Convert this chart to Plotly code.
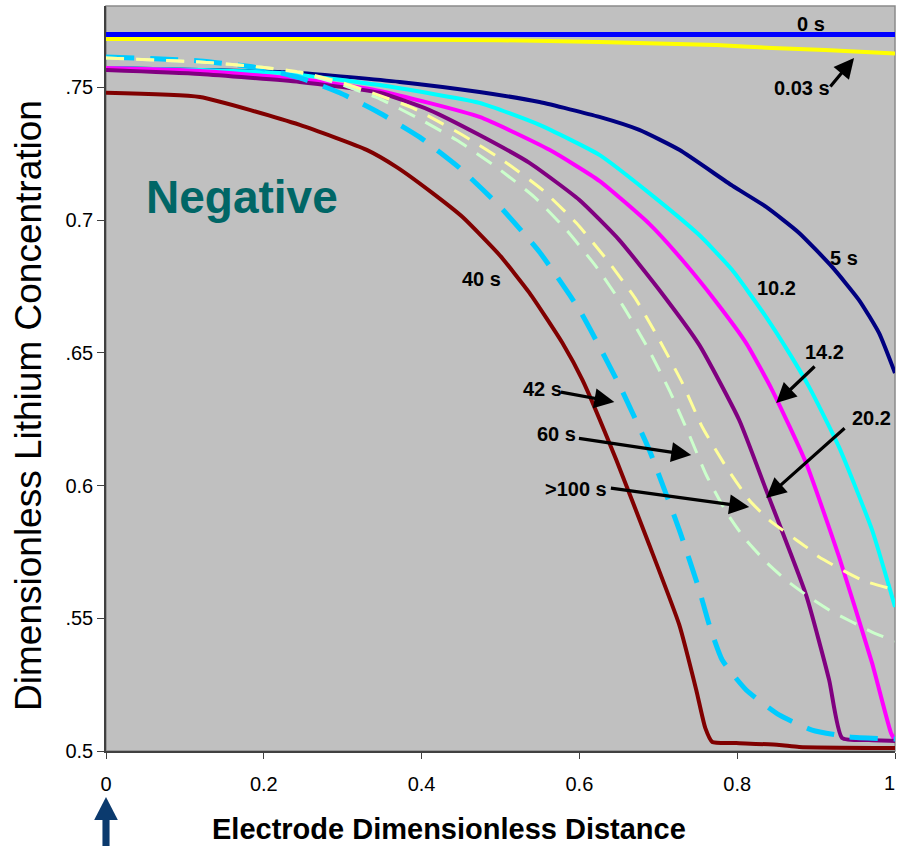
import plotly.graph_objects as go

# ---- concentration profiles across the negative electrode ----
x_0s = [0.0, 1.0]
y_0s = [0.770, 0.770]

x_003s = [0.0, 0.25, 0.5, 0.6253, 0.7734, 0.8443, 0.9114, 1.0]
y_003s = [0.7683, 0.7683, 0.7678, 0.7671, 0.7660, 0.7649, 0.7641, 0.7628]

x_5s = [0.0, 0.119, 0.2456, 0.3722, 0.4734, 0.5494, 0.6253, 0.6759, 0.7266, 0.7937,
        0.8367, 0.8785, 0.9203, 0.9544, 0.9797, 1.0]
y_5s = [0.7573, 0.7566, 0.7555, 0.7521, 0.7483, 0.7445, 0.7389, 0.7340, 0.7265, 0.7130,
        0.7050, 0.6952, 0.6824, 0.6699, 0.6575, 0.6424]

x_10s = [0.0, 0.119, 0.2203, 0.3468, 0.4734, 0.5494, 0.6253, 0.6886, 0.7519, 0.7937,
         0.8367, 0.8658, 0.8911, 0.9291, 0.9709, 1.0]
y_10s = [0.7573, 0.7566, 0.7555, 0.7509, 0.7442, 0.7359, 0.7246, 0.7102, 0.6944, 0.6812,
         0.6635, 0.6500, 0.6372, 0.6145, 0.5833, 0.5543]

x_14s = [0.0, 0.119, 0.2456, 0.3468, 0.4734, 0.5620, 0.6253, 0.6886, 0.7304, 0.7734,
         0.8114, 0.8443, 0.8873, 0.9291, 0.9709, 0.9949, 1.0]
y_14s = [0.7573, 0.7562, 0.7532, 0.7487, 0.7389, 0.7265, 0.7148, 0.6986, 0.6850, 0.6692,
         0.6537, 0.6360, 0.6085, 0.5731, 0.5332, 0.5068, 0.5041]

x_20s = [0.0, 0.119, 0.2456, 0.3468, 0.4101, 0.4734, 0.5367, 0.6, 0.6506, 0.7013,
         0.7519, 0.8025, 0.8367, 0.8873, 0.9165, 0.9329, 0.9671, 1.0]
y_20s = [0.7566, 0.7551, 0.7521, 0.7480, 0.7415, 0.7321, 0.7216, 0.7076, 0.6925, 0.6737,
         0.6530, 0.6247, 0.5983, 0.5588, 0.5268, 0.5049, 0.5041, 0.5038]

x_40s = [0.0, 0.119, 0.2456, 0.3304, 0.3684, 0.4139, 0.4519, 0.4987, 0.5367, 0.5785,
         0.6038, 0.6468, 0.6886, 0.7266, 0.7481, 0.7595, 0.7684, 0.7987, 0.8532, 0.8785, 1.0]
y_40s = [0.7480, 0.7464, 0.7359, 0.7265, 0.7200, 0.7102, 0.7012, 0.6869, 0.6726, 0.6537,
         0.6398, 0.6096, 0.5776, 0.5475, 0.5230, 0.5087, 0.5034, 0.5030, 0.5023, 0.5015, 0.5011]

x_42s = [0.0, 0.119, 0.1949, 0.2456, 0.2962, 0.3468, 0.3975, 0.4481, 0.4987, 0.5494,
         0.6, 0.6506, 0.6886, 0.7266, 0.7519, 0.7646, 0.7810, 0.8114, 0.8532, 0.8949,
         0.9418, 1.0]
y_42s = [0.7615, 0.7600, 0.7573, 0.7536, 0.7480, 0.7404, 0.7313, 0.7197, 0.7053, 0.6880,
         0.6662, 0.6379, 0.6134, 0.5833, 0.5607, 0.5475, 0.5343, 0.5230, 0.5136, 0.5079,
         0.5053, 0.5045]

x_60s = [0.0, 0.119, 0.1949, 0.2456, 0.2962, 0.3468, 0.3975, 0.4443, 0.4949, 0.5430,
         0.5835, 0.6215, 0.6544, 0.6861, 0.7139, 0.7392, 0.7608, 0.7861, 0.8089, 0.8367,
         0.8620, 0.8911, 0.9165, 0.9456, 0.9709, 1.0]
y_60s = [0.7611, 0.7596, 0.7577, 0.7555, 0.7513, 0.7457, 0.7381, 0.7302, 0.7200, 0.7087,
         0.6963, 0.6824, 0.6681, 0.6522, 0.6360, 0.6191, 0.6040, 0.5901, 0.5803, 0.5712,
         0.5644, 0.5580, 0.5531, 0.5486, 0.5448, 0.5414]

x_100s = [0.0, 0.119, 0.1949, 0.2456, 0.2962, 0.3342, 0.3886, 0.4519, 0.5025, 0.5532,
          0.5962, 0.6380, 0.6722, 0.7013, 0.7304, 0.7557, 0.7861, 0.8152, 0.8405, 0.8873,
          0.9038, 0.9582, 1.0]
y_100s = [0.7611, 0.7596, 0.7577, 0.7558, 0.7521, 0.7483, 0.7423, 0.7321, 0.7227, 0.7114,
          0.6989, 0.6839, 0.6699, 0.6549, 0.6387, 0.6221, 0.6070, 0.5946, 0.5870, 0.5769,
          0.5731, 0.5644, 0.5607]

# (name, x, y, colour, width, dash)
series = [
    ("0 s", x_0s, y_0s, "#0000FF", 5, "solid"),
    ("0.03 s", x_003s, y_003s, "#FFFF00", 4, "solid"),
    ("5 s", x_5s, y_5s, "#000080", 4, "solid"),
    ("10.2 s", x_10s, y_10s, "#00FFFF", 4, "solid"),
    ("14.2 s", x_14s, y_14s, "#FF00FF", 4, "solid"),
    ("20.2 s", x_20s, y_20s, "#800080", 4, "solid"),
    ("40 s", x_40s, y_40s, "#800000", 4, "solid"),
    ("42 s", x_42s, y_42s, "#00CCFF", 5, "28px,16px"),
    ("60 s", x_60s, y_60s, "#CCFFCC", 3, "18px,12px"),
    (">100 s", x_100s, y_100s, "#FFFF99", 3, "18px,12px"),
]

# curve labels: (text, x, y)
labels = [
    ("0 s", 0.8937, 0.7739),
    ("0.03 s", 0.8823, 0.7498),
    ("5 s", 0.9354, 0.6858),
    ("10.2", 0.8494, 0.6745),
    ("14.2", 0.9101, 0.6503),
    ("20.2", 0.9696, 0.6255),
    ("40 s", 0.4759, 0.6778),
    ("42 s", 0.5532, 0.6364),
    ("60 s", 0.5709, 0.6194),
    (">100 s", 0.5962, 0.5987),
]

# pointer arrows: (tail x, tail y, head x, head y)
pointers = [
    (0.9165, 0.7498, 0.9481, 0.7611),
    (0.9000, 0.6454, 0.8494, 0.6311),
    (0.9380, 0.6221, 0.8367, 0.5953),
    (0.5747, 0.6353, 0.6443, 0.6315),
    (0.5975, 0.6179, 0.7418, 0.6115),
    (0.6380, 0.5991, 0.8152, 0.5919),
]

y_tickvals = [0.5, 0.55, 0.6, 0.65, 0.7, 0.75]
y_ticktext = ["0.5", ".55", "0.6", ".65", "0.7", ".75"]
x_tickvals = [0, 0.2, 0.4, 0.6, 0.8, 1.0]
x_ticktext = ["0", "0.2", "0.4", "0.6", "0.8", "1"]

FONT = "Liberation Sans, Arial, Helvetica, sans-serif"

fig = go.Figure()
for name, xs, ys, col, w, dash in series:
    fig.add_trace(go.Scatter(
        x=xs, y=ys, mode="lines", name=name,
        line=dict(color=col, width=w, dash=dash, shape="spline", smoothing=0.5),
        showlegend=False, hoverinfo="skip",
    ))

annotations = []
for txt, lx, ly in labels:
    annotations.append(dict(
        x=lx, y=ly, xref="x", yref="y", text=f"<b>{txt}</b>", showarrow=False,
        font=dict(family=FONT, size=20, color="black"),
    ))
for tx, ty, hx, hy in pointers:
    annotations.append(dict(
        x=hx, y=hy, ax=tx, ay=ty, xref="x", yref="y", axref="x", ayref="y",
        text="", showarrow=True, arrowhead=2, arrowsize=1.25, arrowwidth=3.2,
        arrowcolor="black", standoff=0, startstandoff=0,
    ))
annotations.append(dict(
    x=0.1722, y=0.7087, xref="x", yref="y", text="<b>Negative</b>", showarrow=False,
    font=dict(family=FONT, size=46, color="#006666"),
))
# last x tick label sits flush against the right edge of the page
annotations.append(dict(
    x=x_tickvals[-1], y=0, xref="x", yref="paper", text=x_ticktext[-1], showarrow=False,
    xanchor="right", yanchor="top", yshift=-20, xshift=1, borderpad=0,
    font=dict(family=FONT, size=20, color="black"),
))
# axis titles
annotations.append(dict(
    x=-0.099, y=0.4644, xref="paper", yref="paper", text="Dimensionless Lithium Concentration",
    textangle=-90, showarrow=False, xanchor="center", yanchor="middle",
    font=dict(family=FONT, size=37, color="black"),
))
annotations.append(dict(
    x=0.4347, y=-0.1047, xref="paper", yref="paper", text="<b>Electrode Dimensionless Distance</b>",
    showarrow=False, xanchor="center", yanchor="middle",
    font=dict(family=FONT, size=29, color="black"),
))

shapes = [
    # frame of the plotting area
    dict(type="rect", xref="paper", yref="paper", x0=0, y0=0, x1=1, y1=1,
         line=dict(color="#8a8a8a", width=1.5), layer="below"),
    # marker arrow at the current collector (x = 0)
    dict(type="rect", xref="paper", yref="paper", x0=-0.0045, x1=0.0045,
         y0=-0.13, y1=-0.09, fillcolor="#0b3a6e", line=dict(width=0)),
    dict(type="path", xref="paper", yref="paper",
         path="M -0.0150,-0.0926 L 0.0150,-0.0926 L 0,-0.0617 Z",
         fillcolor="#0b3a6e", line=dict(width=0)),
]

fig.update_layout(
    width=897, height=846,
    margin=dict(l=106, r=2, t=6, b=95, autoexpand=False),
    paper_bgcolor="white", plot_bgcolor="#C0C0C0",
    font=dict(family=FONT, color="black"),
    annotations=annotations, shapes=shapes, showlegend=False,
)
fig.update_xaxes(
    range=[0, 1], tickvals=x_tickvals, ticktext=x_ticktext[:-1] + [""],
    showgrid=False, zeroline=False,
    showline=True, linecolor="#404040", linewidth=1.5, ticks="outside", ticklen=6,
    tickcolor="#404040", tickwidth=1.2, tickfont=dict(size=20, family=FONT),
    ticklabelstandoff=8, automargin=False,
)
fig.update_yaxes(
    range=[0.5, 0.7807], tickvals=y_tickvals, ticktext=y_ticktext, showgrid=False, zeroline=False,
    showline=True, linecolor="#404040", linewidth=1.5, ticks="outside", ticklen=7,
    tickcolor="#404040", tickwidth=1.2, tickfont=dict(size=20, family=FONT),
    automargin=False,
)

fig.write_html("out.html")
